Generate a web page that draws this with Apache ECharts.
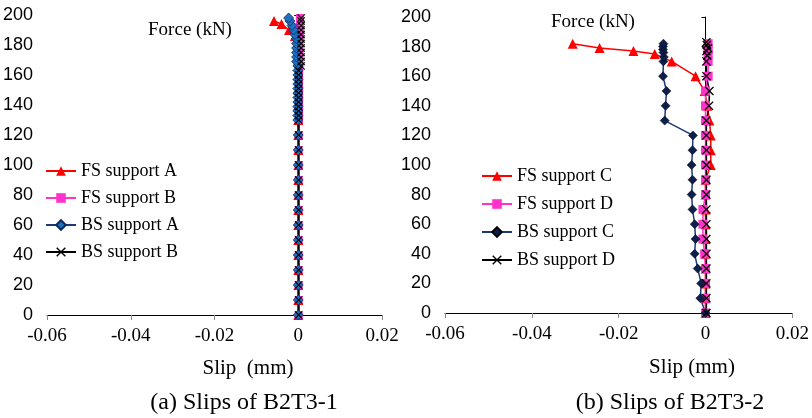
<!DOCTYPE html>
<html>
<head>
<meta charset="utf-8">
<script src="https://cdn.jsdelivr.net/npm/echarts@6/dist/echarts.min.js"></script>
<style>
  html, body { margin: 0; padding: 0; background: #fff; }
  #chart { width: 812px; height: 418px; }
</style>
</head>
<body>
<div id="chart"></div>
<script>
// ---- Specimen B2T3-1: force (kN) levels and slips (mm) ----
const fsA_force = [0,10,20,30,40,50,60,70,80,90,100,110,120,130,140,150,160,170,180,186,190,194,196];
const fsA_slip  = [0,0,0,0,0,0,0,0,0,0,0,0,0,0,0,0,0,0,0,-0.0008,-0.0022,-0.0040,-0.0058];

const dense_force = [0,10,20,30,40,50,60,70,80,90,100,110,120,130,133,136,139,142,145,148,151,154,157,160,163,166,169,172,175,178,181,184,187,190,193,196,198];
const fsB_slip = [0.0001,0.0001,0.0001,0.0001,0.0001,0.0001,0.0001,0.0001,0.0001,0.0001,0.0001,0.0001,0.0001,
                  0.0002,0.0002,0.0002,0.0002,0.0002,0.0002,0.0002,0.0002,0.0002,0.0002,0.0002,0.0002,
                  0.0003,0.0003,0.0003,0.0003,0.0003,0.0003,0.0004,0.0004,0.0004,0.0004,0.0004,0.0004];
const bsA_slip = [0,0,0,0,0,0,0,0,0,0,0,0,0,
                  -0.0001,-0.0001,-0.0001,-0.0001,-0.0001,-0.0001,-0.0001,-0.0001,-0.0001,-0.0001,-0.0001,-0.0001,-0.0001,
                  -0.0004,-0.0004,-0.0004,-0.0004,-0.0004,-0.0004,
                  -0.0008,-0.0011,-0.0015,-0.0020,-0.0023];
const bsB_slip = [0.0001,0.0001,0.0001,0.0001,0.0001,0.0001,0.0001,0.0001,0.0001,0.0001,0.0001,0.0001,0.0001,
                  0.0001,0.0001,0.0001,0.0001,0.0001,0.0001,0.0001,0.0001,0.0001,0.0001,0.0001,0.0001,
                  0.0007,0.0007,0.0007,0.0007,0.0007,0.0007,0.0007,0.0007,0.0007,0.0007,0.0007,0.0007];

// ---- Specimen B2T3-2 ----
const fsC_force = [0,10,20,30,40,50,60,70,80,90,100,110,120,130,140,150,160,170,175,177,179,182];
const fsC_slip  = [0,0,0,0,0,0,0,0,0,0,0.0012,0.0012,0.0012,0.0009,0.0004,-0.0002,-0.0023,-0.0078,-0.0117,-0.0166,-0.0244,-0.0306];

const fsD_force = [0,10,20,30,40,50,60,70,80,90,100,110,120,130,140,150,160,170,175,178,182];
const fsD_slip  = [0,0,0,0,-0.0002,-0.0006,-0.0006,-0.0006,0,0,0,0,0,0,0,0,0.0006,0.0006,0.0006,0.0006,0.0006];

const bsC_force = [0,10,20,30,40,50,60,70,80,90,100,110,120,130,140,150,160,170,173,176,178,180,182];
const bsC_slip  = [0,-0.0012,-0.0010,-0.0018,-0.0025,-0.0023,-0.0025,-0.0030,-0.0032,-0.0030,-0.0032,-0.0030,-0.0029,
                   -0.0094,-0.0092,-0.0090,-0.0098,-0.0097,-0.0096,-0.0097,-0.0098,-0.0098,-0.0097];

const bsD_force = [0,10,20,30,40,50,60,70,80,90,100,110,120,130,140,150,160,170,174,177,179,181,183];
const bsD_slip  = [0.0002,0.0002,0.0002,0.0002,0.0002,0.0002,0.0002,0.0002,0.0002,0.0002,0.0002,0.0002,0.0002,
                   0.0002,0.0008,0.0009,0.0002,0.0002,0.0004,0.0002,0.0006,0.0003,0.0002];

// ---- axis ticks ----
const slipTicks  = [-0.06, -0.04, -0.02, 0, 0.02];
const forceTicks = [0, 20, 40, 60, 80, 100, 120, 140, 160, 180, 200];

const pairs = (xs, ys) => ys.map((f, i) => [xs[i], f]);

const SERIF = '"Liberation Serif", "Times New Roman", serif';
const SANS  = '"Liberation Sans", Arial, sans-serif';
const X_SYMBOL = 'path://M0,1 L1,0 L5,4 L9,0 L10,1 L6,5 L10,9 L9,10 L5,6 L1,10 L0,9 L4,5 Z';

function xAxisFor(gridIndex) {
  return {
    type: 'value', gridIndex,
    min: -0.06, max: 0.02, interval: 0.02,
    splitLine: { show: false },
    axisLine: { onZero: true, lineStyle: { color: '#000', width: 1 } },
    axisTick: { show: true, length: 5, lineStyle: { color: '#888' } },
    axisLabel: {
      color: '#000', fontSize: 19, margin: 12, fontFamily: SERIF,
      rich: { s: { fontFamily: SERIF, fontSize: 19, color: '#000' } },
      formatter: v => {
        const r = Math.round(v * 100) / 100;
        const hit = slipTicks.find(t => Math.abs(t - r) < 1e-9);
        return hit === undefined ? '' : '{s|' + String(hit) + '}';
      }
    }
  };
}
function yAxisFor(gridIndex) {
  return {
    type: 'value', gridIndex,
    min: 0, max: 200, interval: 20,
    splitLine: { show: false },
    axisLine: { onZero: true, lineStyle: { color: '#000', width: 1 } },
    axisTick: { show: true, length: 4, lineStyle: { color: '#000' } },
    axisLabel: {
      color: '#000', fontFamily: SANS, fontSize: 18, margin: 14,
      formatter: v => forceTicks.includes(v) ? String(v) : ''
    }
  };
}

function lineSeries(name, idx, data, opt) {
  return Object.assign({
    name, type: 'line', xAxisIndex: idx, yAxisIndex: idx,
    data, showSymbol: true, clip: false, animation: false,
    emphasis: { disabled: true }
  }, opt);
}

const series = [
  lineSeries('FS support A', 0, pairs(fsA_slip, fsA_force), {
    symbol: 'triangle', symbolSize: 10,
    lineStyle: { color: '#ff0000', width: 1.5 }, itemStyle: { color: '#ff0000' }
  }),
  lineSeries('FS support B', 0, pairs(fsB_slip, dense_force), {
    symbol: 'rect', symbolSize: 8,
    lineStyle: { color: '#ff33cc', width: 1.5 }, itemStyle: { color: '#ff33cc' }
  }),
  lineSeries('BS support A', 0, pairs(bsA_slip, dense_force), {
    symbol: 'diamond', symbolSize: 10,
    lineStyle: { color: '#1b3a7a', width: 1.5 },
    itemStyle: { color: '#1f6fc0', borderColor: '#0b2a5c', borderWidth: 0.8 }
  }),
  lineSeries('BS support B', 0, pairs(bsB_slip, dense_force), {
    symbol: X_SYMBOL, symbolSize: 8,
    lineStyle: { color: '#000', width: 2 }, itemStyle: { color: '#000' }
  }),
  lineSeries('FS support C', 1, pairs(fsC_slip, fsC_force), {
    symbol: 'triangle', symbolSize: 10,
    lineStyle: { color: '#ff0000', width: 1.5 }, itemStyle: { color: '#ff0000' }
  }),
  lineSeries('FS support D', 1, pairs(fsD_slip, fsD_force), {
    symbol: 'rect', symbolSize: 9,
    lineStyle: { color: '#ff33cc', width: 1.5 }, itemStyle: { color: '#ff33cc' }
  }),
  lineSeries('BS support C', 1, pairs(bsC_slip, bsC_force), {
    symbol: 'diamond', symbolSize: 9,
    lineStyle: { color: '#1b3a7a', width: 1.5 },
    itemStyle: { color: '#0d1f4d', borderColor: '#000', borderWidth: 0.5 }
  }),
  lineSeries('BS support D', 1, pairs(bsD_slip, bsD_force), {
    symbol: X_SYMBOL, symbolSize: 9,
    lineStyle: { color: '#000', width: 1.5 }, itemStyle: { color: '#000' }
  })
];

const legendBase = {
  orient: 'vertical', itemWidth: 30, itemHeight: 12, padding: 0,
  textStyle: { fontFamily: SERIF, fontSize: 18, color: '#000' },
  selectedMode: false
};

const text = (t, x, y, size) => ({
  type: 'text', x, y,
  style: { text: t, fontFamily: SERIF, fontSize: size, fill: '#000',
           textAlign: 'center', textVerticalAlign: 'middle' }
});

const chart = echarts.init(document.getElementById('chart'), null, { renderer: 'canvas' });
chart.setOption({
  animation: false,
  backgroundColor: '#fff',
  textStyle: { fontFamily: SERIF },
  grid: [
    { left: 28, top: 15, width: 354, height: 300 },
    { left: 445, top: 17, width: 348, height: 296 }
  ],
  xAxis: [xAxisFor(0), xAxisFor(1)],
  yAxis: [yAxisFor(0), yAxisFor(1)],
  legend: [
    Object.assign({}, legendBase, { left: 45, top: 162, itemGap: 9,
      data: ['FS support A', 'FS support B', 'BS support A', 'BS support B'] }),
    Object.assign({}, legendBase, { left: 481, top: 167, itemGap: 10,
      data: ['FS support C', 'FS support D', 'BS support C', 'BS support D'] })
  ],
  graphic: [
    text('Force (kN)', 190, 30, 19),
    text('Force (kN)', 593, 22, 19),
    text('Slip  (mm)', 248, 368, 21),
    text('Slip (mm)', 692, 367, 21),
    text('(a) Slips of B2T3-1', 244, 403, 24),
    text('(b) Slips of B2T3-2', 670, 403, 24)
  ],
  series
});
</script>
</body>
</html>
